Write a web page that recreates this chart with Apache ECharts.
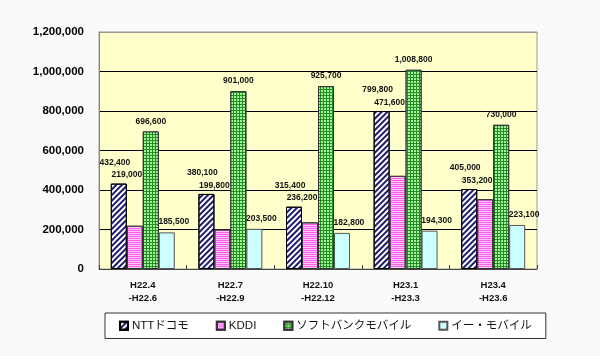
<!DOCTYPE html>
<html><head><meta charset="utf-8">
<script src="https://cdn.jsdelivr.net/npm/echarts@6/dist/echarts.min.js"></script>
<style>html,body{margin:0;padding:0;background:#fafafa}#c{width:600px;height:356px}</style>
</head><body><div id="c"></div>
<script>
const categories = ['H22.4\n-H22.6', 'H22.7\n-H22.9', 'H22.10\n-H22.12', 'H23.1\n-H23.3', 'H23.4\n-H23.6'];
const seriesNames = ['NTTドコモ', 'KDDI', 'ソフトバンクモバイル', 'イー・モバイル'];
const docomo = [432400, 380100, 315400, 799800, 405000];
const kddi = [219000, 199800, 236200, 471600, 353200];
const softbank = [696600, 901000, 925700, 1008800, 730000];
const emobile = [185500, 203500, 182800, 194300, 223100];
const yTicks = [0, 200000, 400000, 600000, 800000, 1000000, 1200000];

const FONT = "'Liberation Sans', Arial, 'Noto Sans CJK JP', sans-serif";
const fmt = v => v.toLocaleString('en-US');
const labelBase = {show: true, position: 'top', fontFamily: FONT, fontSize: 8.5, fontWeight: 'bold', color: '#111', formatter: p => fmt(p.value)};

const chart = echarts.init(document.getElementById('c'), null, {renderer: 'canvas'});

function buildOption(kddiOffsets) {
  return {
    backgroundColor: '#fafafa',
    animation: false,
    grid: {left: 99, right: 63, top: 32, bottom: 87, show: true, backgroundColor: '#ffffcc', borderColor: '#999', borderWidth: 1},
    legend: {
      data: seriesNames, left: 105, top: 313, orient: 'horizontal',
      itemWidth: 8, itemHeight: 8, itemGap: 27, icon: 'rect',
      padding: [7, 14, 7, 14], borderColor: '#333', borderWidth: 1, backgroundColor: '#fff',
      textStyle: {fontFamily: FONT, fontSize: 11.5, color: '#111', padding: [0, 0, 0, -1]}
    },
    xAxis: {
      type: 'category', data: categories,
      axisLine: {lineStyle: {color: '#444'}},
      axisTick: {show: true, inside: true, length: 4, lineStyle: {color: '#444'}},
      axisLabel: {fontFamily: FONT, fontSize: 9.5, fontWeight: 'bold', lineHeight: 13, color: '#111', margin: 10}
    },
    yAxis: {
      type: 'value', min: yTicks[0], max: yTicks[yTicks.length - 1], interval: yTicks[1] - yTicks[0],
      axisLine: {show: true, lineStyle: {color: '#888'}},
      axisTick: {show: false},
      axisLabel: {fontFamily: FONT, fontSize: 11.5, fontWeight: 'bold', color: '#000', margin: 15, formatter: v => fmt(v)},
      splitLine: {lineStyle: {color: ['#000', '#000', '#000', '#000', '#000', '#000', '#999'], width: 1}}
    },
    series: [
      {
        name: seriesNames[0], type: 'bar', data: docomo, barCategoryGap: '27%', barGap: '0%',
        itemStyle: {color: '#ffffff', borderColor: '#000', borderWidth: 1,
          decal: {symbol: 'rect', color: '#1c1c70', dashArrayX: [1, 0], dashArrayY: [2, 2], rotation: -Math.PI / 4, symbolSize: 1}},
        label: Object.assign({}, labelBase, {offset: [-4, -12]})
      },
      {
        name: seriesNames[1], type: 'bar', barGap: '0%',
        data: kddi.map((v, i) => ({value: v, label: {offset: [-8, kddiOffsets ? kddiOffsets[i] : 0]}})),
        itemStyle: {color: '#ffc8ff', borderColor: '#333', borderWidth: 1,
          decal: {symbol: 'rect', color: '#ff5cf0', dashArrayX: [1, 0], dashArrayY: [1, 1], rotation: 0, symbolSize: 1}},
        label: labelBase
      },
      {
        name: seriesNames[2], type: 'bar', data: softbank, barGap: '0%',
        itemStyle: {color: '#1f8f1f', borderColor: '#333', borderWidth: 1,
          decal: {symbol: 'rect', color: '#a8f0a0', dashArrayX: [2, 1], dashArrayY: [2, 1], rotation: 0, symbolSize: 1}},
        label: Object.assign({}, labelBase, {offset: [0, -1]})
      },
      {
        name: seriesNames[3], type: 'bar', data: emobile, barGap: '0%',
        itemStyle: {color: '#ccffff', borderColor: '#555', borderWidth: 1},
        label: Object.assign({}, labelBase, {offset: [7, -1]})
      }
    ]
  };
}

chart.setOption(buildOption(null));
// place KDDI labels just under the NTT labels, using the chart's own y scale
const kddiOffsets = kddi.map((v, i) => {
  const yN = chart.convertToPixel({yAxisIndex: 0}, docomo[i]);
  const yK = chart.convertToPixel({yAxisIndex: 0}, v);
  return yN - yK + 0.5;
});
chart.setOption(buildOption(kddiOffsets));
</script>
</body></html>
